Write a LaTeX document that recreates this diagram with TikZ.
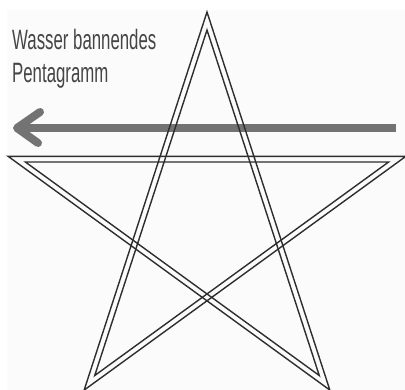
\documentclass[tikz,border=0pt]{standalone}
\usepackage{fontspec}
\newfontfamily\condfont[FakeStretch=0.6]{Liberation Sans}
\definecolor{bgc}{HTML}{FBFBFB}
\definecolor{arrowc}{HTML}{737373}
\definecolor{starc}{HTML}{2E2E2E}
\definecolor{textc}{HTML}{454545}
\begin{document}
\begin{tikzpicture}[x=1pt,y=1pt,
  starline/.style={draw=starc,line width=1.4pt,line join=miter},
  arrowline/.style={draw=arrowc,line width=8pt},
  chevron/.style={draw=arrowc,line width=8pt,line cap=round,line join=round},
  label/.style={anchor=base west,inner sep=0pt,text=textc,font=\condfont\fontsize{28}{33}\selectfont}]
\useasboundingbox (0,0) rectangle (405,390);
\fill[white] (0,0) rectangle (405,390);
\fill[bgc] (7,0) rectangle (405,380);
% arrow
\coordinate (ar) at (396,262);
\coordinate (al) at (17,262);
\coordinate (au) at (40,278);
\coordinate (ad) at (38,247);
\draw[arrowline] (ar) -- (al);
\draw[chevron] (au) -- (al) -- (ad);
% pentagram drawn as two parallel outlines
\begin{scope}[shift={(207,169)}]
\draw[starline] (90:209) -- (234:209) -- (18:209) -- (162:209) -- (306:209) -- cycle;
\draw[starline] (90:191) -- (234:191) -- (18:191) -- (162:191) -- (306:191) -- cycle;
\end{scope}
% text
\node[label] (t1) at (12,340) {Wasser bannendes};
\node[label] (t2) at (12,307) {Pentagramm};
\end{tikzpicture}
\end{document}
